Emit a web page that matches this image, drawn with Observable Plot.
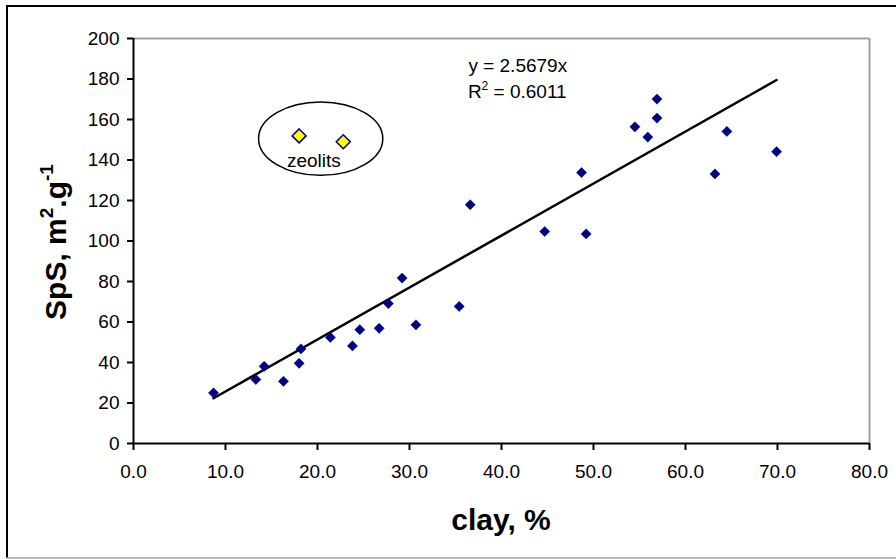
<!DOCTYPE html>
<html>
<head>
<meta charset="utf-8">
<script src="https://cdn.jsdelivr.net/npm/d3@7"></script>
<script src="https://cdn.jsdelivr.net/npm/@observablehq/plot@0.6"></script>
<style>
  html, body { margin: 0; padding: 0; background: #fff; }
  #chart { width: 896px; height: 559px; overflow: hidden; }
</style>
</head>
<body>
<div id="chart"></div>
<script>
// Soil samples: clay (%) vs specific surface SpS (m2.g-1)
const clay = [8.7, 13.3, 14.2, 16.3, 18.0, 18.2, 21.4, 23.8, 24.6, 26.7, 27.7, 29.2, 30.7,
              35.4, 36.6, 44.7, 48.7, 49.2, 54.5, 55.9, 56.9, 56.9, 63.2, 64.5, 69.9];
const sps  = [25.0, 31.6, 38.1, 30.7, 39.6, 46.7, 52.4, 48.2, 56.2, 56.9, 69.1, 81.7, 58.6,
              67.7, 117.9, 104.7, 133.8, 103.5, 156.4, 151.3, 160.7, 170.1, 133.1, 154.1, 144.1];
// Zeolite samples (highlighted)
const zeoClay = [18.0, 22.8];
const zeoSps  = [151.9, 149.0];
// Trend line through origin
const slope = 2.5679;
const r2 = 0.6011;
// Axis ticks
const xTicks = [0, 10, 20, 30, 40, 50, 60, 70, 80];
const yTicks = [0, 20, 40, 60, 80, 100, 120, 140, 160, 180, 200];

const soil = clay.map((c, i) => ({clay: c, sps: sps[i]}));
const zeo = zeoClay.map((c, i) => ({clay: c, sps: zeoSps[i]}));
const xr = d3.extent(clay);
const trend = xr.map(x => ({clay: x, sps: slope * x}));

// ellipse around the zeolite group (data coordinates)
const zeoCenter = {clay: d3.mean(zeoClay), sps: 150.3};
const zeoRx = 6.75, zeoRy = 18.1;

const font = "'Liberation Sans', Arial, sans-serif";

const chart = Plot.plot({
  width: 896,
  height: 559,
  marginLeft: 133,
  marginRight: 27,
  marginTop: 38,
  marginBottom: 116,
  style: {fontFamily: font, background: "#fff", overflow: "visible"},
  x: {domain: [0, 80], ticks: xTicks},
  y: {domain: [0, 200], ticks: yTicks},
  marks: [
    Plot.ruleY([200], {stroke: "#a0a0a0", strokeWidth: 2}),
    Plot.ruleX([80], {stroke: "#a0a0a0", strokeWidth: 2}),
    Plot.axisY({ticks: yTicks, tickSize: 6, tickPadding: 8, fontSize: 19, label: null, stroke: "#000", strokeWidth: 2, color: "#000"}),
    Plot.axisX({ticks: xTicks, tickSize: 7, tickPadding: 14, fontSize: 19, label: null, tickFormat: d => d.toFixed(1), strokeWidth: 2, color: "#000"}),
    Plot.ruleX([0], {stroke: "#000", strokeWidth: 2}),
    Plot.ruleY([0], {stroke: "#000", strokeWidth: 2}),
    Plot.line(trend, {x: "clay", y: "sps", stroke: "#000", strokeWidth: 2.5}),
    Plot.dot(soil, {x: "clay", y: "sps", symbol: "diamond2", r: 4.6, fill: "#000080", stroke: "#000080", strokeWidth: 0.5}),
    Plot.dot(zeo, {x: "clay", y: "sps", symbol: "diamond2", r: 6.3, fill: "#ffff00", stroke: "#000080", strokeWidth: 1.5}),
    // ellipse drawn with the chart's own scales
    (index, {x, y}) => {
      const e = d3.create("svg:ellipse")
        .attr("cx", x(zeoCenter.clay))
        .attr("cy", y(zeoCenter.sps))
        .attr("rx", x(zeoCenter.clay + zeoRx) - x(zeoCenter.clay))
        .attr("ry", y(zeoCenter.sps - zeoRy) - y(zeoCenter.sps))
        .attr("fill", "none").attr("stroke", "#000").attr("stroke-width", 1.5);
      return e.node();
    },
    Plot.text(["zeolits"], {x: 19.6, y: 136.5, fontSize: 19, fill: "#000", textAnchor: "middle", lineAnchor: "bottom"}),
    Plot.text([`y = ${slope}x`], {x: 36.4, y: 183.5, fontSize: 19, fill: "#000", textAnchor: "start", lineAnchor: "bottom"}),
    (index, {x, y}) => {
      const t = d3.create("svg:text")
        .attr("x", x(36.4)).attr("y", y(170.6))
        .attr("text-anchor", "start")
        .attr("font-size", 19).attr("fill", "#000");
      t.append("tspan").text("R");
      t.append("tspan").attr("font-size", 12).attr("dy", -8).text("2");
      t.append("tspan").attr("dy", 8).text(` = ${r2.toFixed(4)}`);
      return t.node();
    }
  ]
});

const svg = d3.select(chart);
// Axis titles
svg.append("text")
  .attr("x", 501).attr("y", 530)
  .attr("text-anchor", "middle")
  .attr("font-family", font).attr("font-weight", "bold").attr("font-size", 30)
  .text("clay, %");
const yl = svg.append("text")
  .attr("transform", "translate(66,242) rotate(-90)")
  .attr("text-anchor", "middle")
  .attr("font-family", font).attr("font-weight", "bold").attr("font-size", 30);
yl.append("tspan").text("SpS, m");
yl.append("tspan").attr("font-size", 19).attr("dy", -13).text("2");
yl.append("tspan").attr("dy", 13).text(".g");
yl.append("tspan").attr("font-size", 19).attr("dy", -13).text("-1");
// outer chart border
svg.append("line").attr("x1", 7).attr("x2", 896).attr("y1", 6).attr("y2", 6).attr("stroke", "#000").attr("stroke-width", 2);
svg.append("line").attr("x1", 7).attr("x2", 7).attr("y1", 5).attr("y2", 558).attr("stroke", "#000").attr("stroke-width", 2);
svg.append("line").attr("x1", 6).attr("x2", 896).attr("y1", 558).attr("y2", 558).attr("stroke", "#a0a0a0").attr("stroke-width", 1.5);

document.getElementById("chart").appendChild(chart);
</script>
</body>
</html>
